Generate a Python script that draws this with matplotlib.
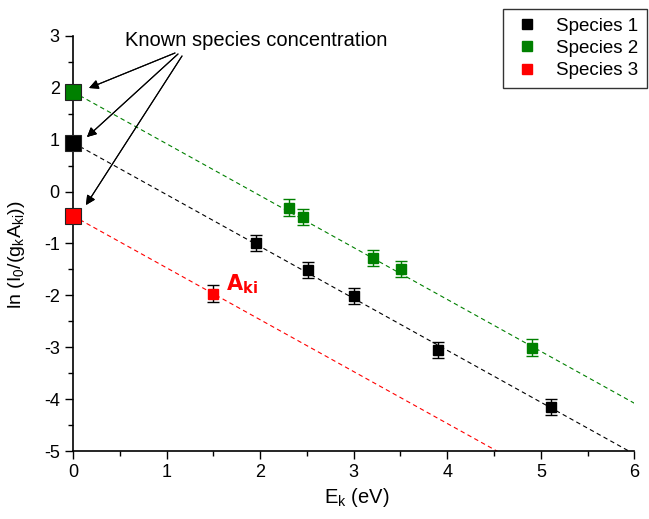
import matplotlib.pyplot as plt
import numpy as np

plt.rcParams['font.family'] = ['Liberation Sans', 'DejaVu Sans']
plt.rcParams['axes.unicode_minus'] = False

# measured points (E_k, ln value)
s1_x = [1.96, 2.51, 3.0, 3.9, 5.11]
s1_y = [-0.99, -1.51, -2.01, -3.05, -4.15]
s2_x = [2.31, 2.46, 3.21, 3.51, 4.91]
s2_y = [-0.31, -0.49, -1.28, -1.49, -3.01]
s3_x = [1.5]
s3_y = [-1.97]
yerr = 0.16

# known intercepts (E_k = 0)
known_y = [0.94, 1.92, -0.47]
slope = -1.0
colors = ['black', 'green', 'red']
labels = ['Species 1', 'Species 2', 'Species 3']

fig = plt.figure(figsize=(6.49, 5.19), dpi=100)
ax = fig.add_axes([0.1125, 0.131, 0.865, 0.8])

# fitted lines
xx = np.linspace(0, 6, 200)
for b, c in zip(known_y, colors):
    ax.plot(xx, b + slope * xx, color=c, ls=(0, (4, 3)), lw=0.8, zorder=1)

# data with error bars
ax.errorbar(s1_x, s1_y, yerr=yerr, fmt='s', color='black', ms=7,
            ecolor='black', elinewidth=1, capsize=4, capthick=1, zorder=3)
ax.errorbar(s2_x, s2_y, yerr=yerr, fmt='s', color='green', ms=7,
            ecolor='green', elinewidth=1, capsize=4, capthick=1, zorder=3)
ax.errorbar(s3_x, s3_y, yerr=yerr, fmt='s', color='red', ms=7,
            ecolor='black', elinewidth=1, capsize=4, capthick=1, zorder=3)

# big squares for known concentrations
for b, c in zip(known_y, colors):
    ax.plot([0], [b], 's', color=c, ms=12, mec='#222222', mew=0.8,
            clip_on=False, zorder=5)

# legend entries
handles = [plt.Line2D([], [], marker='s', ls='none', color=c, ms=7) for c in colors]
leg = fig.legend(handles, labels, loc='upper left',
                 bbox_to_anchor=(503 / 649, 1 - 9 / 519), fontsize=13.5,
                 frameon=True, fancybox=False, edgecolor='black',
                 handletextpad=0.7, labelspacing=0.28, borderpad=0.45,
                 handlelength=1.7, borderaxespad=0)
leg.get_frame().set_linewidth(1.0)

# annotation arrows
fig.text(125 / 649, 1 - 40 / 519, 'Known species concentration',
         fontsize=14.5, va='center', ha='left')
starts = [(175, 53), (178, 54), (182, 56)]
ends = [(89, 88), (87, 137), (86, 205)]
for (sx, sy), (ex, ey) in zip(starts, ends):
    fig.add_artist(plt.annotate('', xy=(ex / 649, 1 - ey / 519),
                                xytext=(sx / 649, 1 - sy / 519),
                                xycoords='figure fraction',
                                textcoords='figure fraction',
                                arrowprops=dict(arrowstyle='-|>', color='black',
                                                lw=0.8, mutation_scale=14,
                                                shrinkA=0, shrinkB=0)))

ax.text(1.63, -1.9, r'$\mathbf{A}_{\mathbf{ki}}$', color='red', fontsize=15,
        fontweight='bold')

ax.set_xlim(0, 6)
ax.set_ylim(-5, 3)
ax.set_xticks(range(0, 7))
ax.set_yticks(range(-5, 4))
ax.set_xticks(np.arange(0.5, 6, 1), minor=True)
ax.set_yticks(np.arange(-4.5, 3, 1), minor=True)
ax.tick_params(which='major', direction='out', length=6, width=1, labelsize=13)
ax.tick_params(which='minor', direction='out', length=3.5, width=1)
for s in ['top', 'right']:
    ax.spines[s].set_visible(False)
for s in ['left', 'bottom']:
    ax.spines[s].set_linewidth(1.2)

ax.set_xlabel(r'E$_\mathregular{k}$ (eV)', fontsize=14.5)
ax.set_ylabel(r'ln (I$_\mathregular{0}$/(g$_\mathregular{k}$A$_\mathregular{ki}$))',
              fontsize=14)
ax.xaxis.set_label_coords(0.506, -0.085)
ax.yaxis.set_label_coords(-0.082, 0.472)

fig.savefig('out.png', dpi=100)
